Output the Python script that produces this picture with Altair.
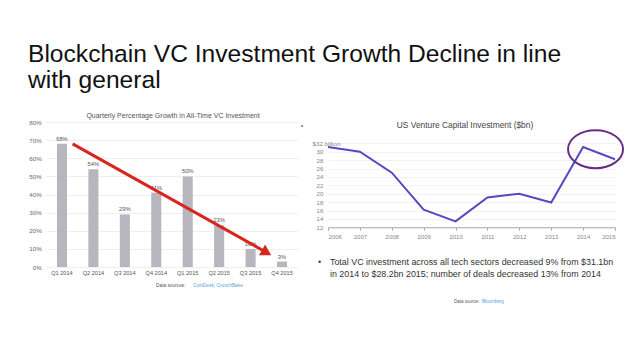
import altair as alt
import pandas as pd

# ---------------- data ----------------
quarters = ["Q1 2014", "Q2 2014", "Q3 2014", "Q4 2014",
            "Q1 2015", "Q2 2015", "Q3 2015", "Q4 2015"]
growth = [68, 54, 29, 41, 50, 23, 10, 3]
growth_ticks = [0, 10, 20, 30, 40, 50, 60, 70, 80]

# red trend arrow, in (bar index, %) units
arrow_x = [0.84, 7.01]
arrow_y = [67.9, 8.0]

years = [2006, 2007, 2008, 2009, 2010, 2011, 2012, 2013, 2014, 2015]
vc_bn = [31.1, 30.0, 25.0, 16.2, 13.4, 19.1, 20.0, 17.9, 31.1, 28.2]
vc_ticks = [12, 14, 16, 18, 20, 22, 24, 26, 28, 30, 32]

# highlight ellipse centre (year, $bn)
circle_x = [2014.39]
circle_y = [30.6]

# ---------------- layout (canvas px) ----------------
W, H = 622, 330
FONT = "Liberation Sans"

L_X0, L_X1 = 38.25, 289.75
L_Y0, L_Y1 = 259.0, 114.0
R_X0, R_X1 = 320.0, 607.0
R_Y0, R_Y1 = 219.3, 135.3

# ---------------- left chart ----------------
left_df = pd.DataFrame({"q": quarters, "g": growth,
                        "lbl": [f"{v}%" for v in growth]})

xL = alt.X("q:N", sort=quarters,
           scale=alt.Scale(range=[L_X0, L_X1], paddingInner=0.68, paddingOuter=0.34),
           axis=alt.Axis(title=None, orient="bottom", offset=L_Y0 - H, labelAngle=0,
                         domain=False, ticks=False, tickSize=0, labelPadding=3,
                         labelFontSize=5.6, labelColor="#555555", grid=False,
                         labelOverlap=False, labelFont=FONT))
yL = alt.Y("g:Q",
           scale=alt.Scale(domain=[0, 80], range=[L_Y0, L_Y1], nice=False),
           axis=alt.Axis(title=None, orient="left", offset=-L_X0, values=growth_ticks,
                         tickCount=30, format="d",
                         labelExpr="datum.value + '%'", domain=False, ticks=False,
                         tickSize=0, labelPadding=5, labelFontSize=6.2,
                         labelColor="#666666", grid=True, gridColor="#e8e8e8",
                         gridWidth=0.7, labelOverlap=False, labelFont=FONT))

left_bars = alt.Chart(left_df).mark_bar(color="#b7b5be").encode(x=xL, y=yL)
left_lbl = alt.Chart(left_df).mark_text(
    baseline="bottom", dy=-2, fontSize=5.8, color="#555555", font=FONT
).encode(x=alt.X("q:N", sort=quarters), y="g:Q", text="lbl:N")
left = alt.layer(left_bars, left_lbl)

arrow_df = pd.DataFrame({"ax": arrow_x, "ay": arrow_y})
xA = alt.X("ax:Q", scale=alt.Scale(domain=[0, 8], range=[L_X0, L_X1], nice=False, zero=False), axis=None)
yA = alt.Y("ay:Q", scale=alt.Scale(domain=[0, 80], range=[L_Y0, L_Y1], nice=False), axis=None)
arrow_line = alt.Chart(arrow_df).mark_line(color="#d7261e", strokeWidth=3).encode(x=xA, y=yA)
arrow_head = alt.Chart(arrow_df.iloc[[1]]).mark_point(
    shape="triangle-right", filled=True, size=150, angle=30, color="#d7261e", opacity=1
).encode(x="ax:Q", y="ay:Q")
arrow = alt.layer(arrow_line, arrow_head)

# ---------------- right chart ----------------
right_df = pd.DataFrame({"year": years, "bn": vc_bn})
circ_df = pd.DataFrame({"year": circle_x, "bn": circle_y})

xR = alt.X("year:Q",
           scale=alt.Scale(domain=[2006, 2015], range=[R_X0, R_X1], nice=False, zero=False),
           axis=alt.Axis(title=None, orient="bottom", offset=R_Y0 - H, values=years,
                         tickCount=30,
                         format="d", domainColor="#aaaaaa", domainWidth=1,
                         tickColor="#aaaaaa", tickSize=3, labelPadding=3,
                         labelFontSize=6, labelColor="#888888", grid=False,
                         labelOverlap=False, labelFont=FONT))
yR = alt.Y("bn:Q",
           scale=alt.Scale(domain=[12, 32], range=[R_Y0, R_Y1], nice=False, zero=False),
           axis=alt.Axis(title=None, orient="left", offset=-R_X0, values=vc_ticks,
                         tickCount=30, format="d",
                         labelExpr="datum.value == 32 ? '$32 billion' : datum.label",
                         labelAlign={"condition": {"test": "datum.value == 32", "value": "left"}, "value": "right"},
                         labelPadding={"condition": {"test": "datum.value == 32", "value": 16}, "value": 5},
                         domain=False, ticks=False, tickSize=0, labelFontSize=6.2,
                         labelColor="#888888", grid=True, gridColor="#ececec",
                         gridWidth=0.7, labelOverlap=False, labelFont=FONT))

ELLIPSE = "M -1 0 A 1 0.69 0 1 1 1 0 A 1 0.69 0 1 1 -1 0 Z"
right_line = alt.Chart(right_df).mark_line(color="#5549c4", strokeWidth=2).encode(x=xR, y=yR)
circle = alt.Chart(circ_df).mark_point(
    shape=ELLIPSE, filled=False, size=3025, stroke="#652d86", strokeWidth=2, opacity=1
).encode(x="year:Q", y="bn:Q")
right = alt.layer(right_line, circle)


# ---------------- texts ----------------
def txt(s, x, y, size, color, align="left", baseline="middle"):
    return alt.Chart(pd.DataFrame({"t": [s]})).mark_text(
        align=align, baseline=baseline, fontSize=size, color=color, font=FONT
    ).encode(x=alt.value(x), y=alt.value(y), text="t:N")


texts = [
    txt("Blockchain VC Investment Growth Decline in line", 20, 53.7, 24.6, "#111111", baseline="alphabetic"),
    txt("with general", 20, 80.3, 24.6, "#111111", baseline="alphabetic"),
    txt("Quarterly Percentage Growth in All-Time VC Investment", 165, 108, 7, "#555555", align="center"),
    txt("US Venture Capital Investment ($bn)", 457, 117, 8.4, "#444444", align="center"),
    txt("•", 294, 118, 7, "#777777", align="center"),
    txt("•", 310, 254, 8.8, "#444444", align="left"),
    txt("Total VC investment across all tech sectors decreased 9% from $31.1bn", 322, 254, 8.9, "#333333"),
    txt("in 2014 to $28.2bn 2015; number of deals decreased 13% from 2014", 322, 265.5, 8.9, "#333333"),
    txt("Data sources:", 148, 278, 4.8, "#555555"),
    txt("CoinDesk, CrunchBase", 185, 278, 4.8, "#5aa0d8"),
    txt("Data source:", 446, 293.7, 4.5, "#555555"),
    txt("Bloomberg", 474, 293.7, 4.5, "#5aa0d8"),
]

chart = alt.layer(left, arrow, right, *texts).resolve_scale(
    x="independent", y="independent"
).properties(
    width=W, height=H, autosize=alt.AutoSizeParams(type="none"), padding=0,
    background="white"
).configure_view(stroke=None)

chart.save("out.html", embed_options={"renderer": "svg", "actions": False})
